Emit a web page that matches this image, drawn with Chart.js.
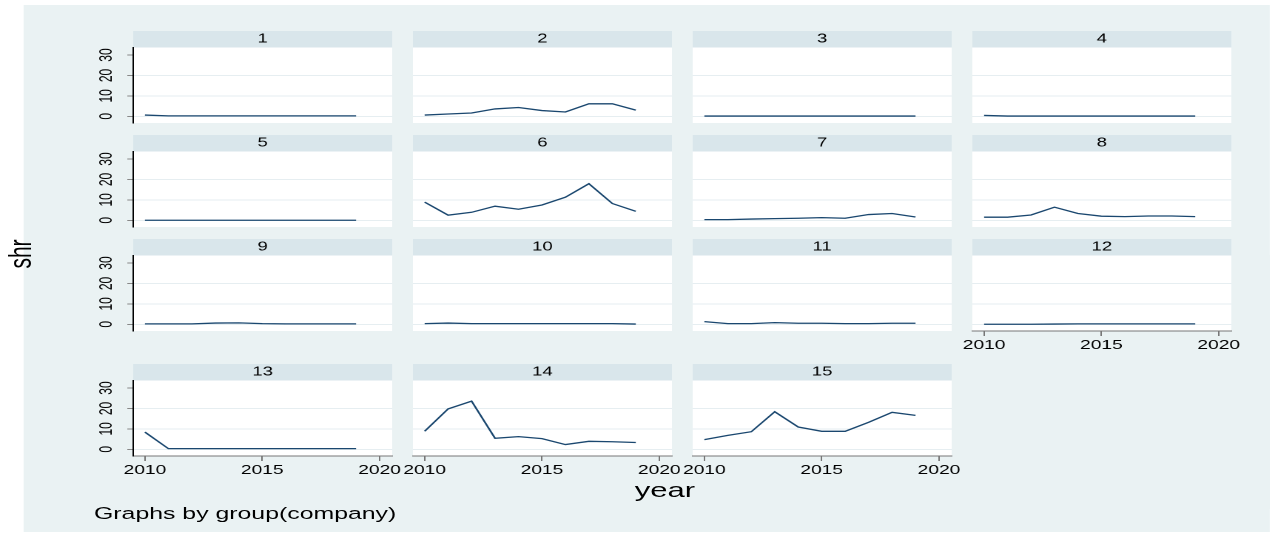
<!DOCTYPE html>
<html>
<head>
<meta charset="utf-8">
<script src="https://cdn.jsdelivr.net/npm/chart.js@4.4.1/dist/chart.umd.min.js"></script>
<style>
  html, body { margin: 0; padding: 0; background: #fff; overflow: hidden; }
  #stage { position: absolute; left: 0; top: 0; height: 537px; transform-origin: 0 0; }
  #stage canvas { position: absolute; }
  .txt { position: absolute; font-family: "Liberation Sans", Arial, sans-serif; color: #000; white-space: nowrap; }
</style>
</head>
<body>
<div id="stage">
  <div id="bg" style="position:absolute;background:#eaf2f3;"></div>
</div>
<script>
// the reference picture is stretched sideways, so draw narrow and scale in x
const K = 1.48;

const years = [2010, 2011, 2012, 2013, 2014, 2015, 2016, 2017, 2018, 2019];
const groups = ["1", "2", "3", "4", "5", "6", "7", "8", "9", "10", "11", "12", "13", "14", "15"];
const xTicks = [2010, 2015, 2020];
const yTicks = [0, 10, 20, 30];

const shr1 = [0.6, 0.2, 0.2, 0.2, 0.2, 0.2, 0.2, 0.2, 0.2, 0.2];
const shr2 = [0.6, 1.1, 1.6, 3.6, 4.3, 2.8, 2.1, 6.1, 6.1, 3.0];
const shr3 = [0.1, 0.1, 0.1, 0.1, 0.1, 0.1, 0.1, 0.1, 0.1, 0.1];
const shr4 = [0.4, 0.1, 0.1, 0.1, 0.1, 0.1, 0.1, 0.1, 0.1, 0.1];
const shr5 = [0, 0, 0, 0, 0, 0, 0, 0, 0, 0];
const shr6 = [8.9, 2.5, 3.9, 6.9, 5.4, 7.5, 11.3, 17.9, 8.2, 4.4];
const shr7 = [0.3, 0.3, 0.6, 0.8, 1.0, 1.3, 1.0, 2.8, 3.3, 1.6];
const shr8 = [1.5, 1.5, 2.6, 6.4, 3.3, 2.0, 1.8, 2.1, 2.1, 1.8];
const shr9 = [0.2, 0.2, 0.2, 0.6, 0.7, 0.3, 0.2, 0.2, 0.2, 0.2];
const shr10 = [0.3, 0.6, 0.3, 0.3, 0.3, 0.3, 0.3, 0.3, 0.3, 0.1];
const shr11 = [1.3, 0.3, 0.3, 0.8, 0.5, 0.5, 0.3, 0.3, 0.5, 0.5];
const shr12 = [0, 0, 0, 0.1, 0.2, 0.2, 0.2, 0.2, 0.2, 0.2];
const shr13 = [8.4, 0.3, 0.3, 0.3, 0.3, 0.3, 0.3, 0.3, 0.3, 0.3];
const shr14 = [8.8, 19.8, 23.6, 5.4, 6.2, 5.2, 2.3, 3.9, 3.7, 3.3];
const shr15 = [4.7, 6.8, 8.6, 18.4, 10.9, 8.8, 8.8, 13.2, 18.1, 16.6];
const series = [shr1, shr2, shr3, shr4, shr5, shr6, shr7, shr8, shr9, shr10, shr11, shr12, shr13, shr14, shr15];

const NAVY = "#1a476f";
const HEADER = "#d9e6eb";
const GRID = "#e6eef1";
const FONT = '"Liberation Sans", Arial, sans-serif';

// layout, in reference pixels
const colLeft = [133.3, 412.7, 692, 972];
const rowTop = [31, 135, 239.2, 364];
const PLOT_W = 258.7;
const HEAD = 16.5;
const PLOT_H = 75.5;
const PADX = 34;
const PADB = 40;
const XH = 30;   // room kept for the x axis labels

Chart.defaults.font.family = FONT;

const stage = document.getElementById("stage");
stage.style.width = (1270 / K) + "px";
stage.style.transform = "scaleX(" + K + ")";

const bg = document.getElementById("bg");
bg.style.left = (24 / K) + "px";
bg.style.top = "5px";
bg.style.width = ((1270 - 24) / K) + "px";
bg.style.height = "527px";

const panelBg = {
    id: "panelBg",
    beforeDraw(chart) {
        const { ctx, chartArea: a } = chart;
        const t = chart.titleBlock;
        ctx.save();
        ctx.fillStyle = HEADER;
        ctx.fillRect(a.left, t.top, a.right - a.left, t.height);
        ctx.fillStyle = "#fff";
        ctx.fillRect(a.left, a.top, a.right - a.left, a.bottom - a.top);
        ctx.restore();
    },
    afterDraw(chart, args, opts) {
        if (!opts.yLabels) return;
        const { ctx, chartArea } = chart;
        const y = chart.scales.y;
        ctx.save();
        ctx.fillStyle = "#000";
        ctx.font = "12px " + FONT;
        ctx.textAlign = "center";
        ctx.textBaseline = "middle";
        yTicks.forEach(v => {
            ctx.save();
            ctx.translate(chartArea.left - 18, y.getPixelForValue(v));
            ctx.rotate(-Math.PI / 2);
            ctx.fillText(String(v), 0, 0);
            ctx.restore();
        });
        ctx.restore();
    }
};

series.forEach((vals, i) => {
    const col = i % 4;
    const row = Math.floor(i / 4);
    const hasY = col === 0;
    const hasX = i + 4 >= series.length;

    const w = Math.round(PLOT_W / K) + 2 * PADX;
    const h = HEAD + PLOT_H + PADB;
    const canvas = document.createElement("canvas");
    canvas.width = w;
    canvas.height = h;
    canvas.style.width = w + "px";
    canvas.style.height = h + "px";
    canvas.style.left = (colLeft[col] / K - PADX) + "px";
    canvas.style.top = rowTop[row] + "px";
    stage.appendChild(canvas);

    new Chart(canvas, {
        type: "line",
        data: {
            datasets: [{
                data: vals.map((v, j) => ({ x: years[j], y: v })),
                borderColor: NAVY,
                borderWidth: 1.3,
                pointRadius: 0,
                tension: 0,
                fill: false
            }]
        },
        plugins: [panelBg],
        options: {
            responsive: false,
            animation: false,
            devicePixelRatio: 2,
            layout: {
                padding: { left: PADX, right: PADX, top: 0, bottom: hasX ? PADB - XH : PADB },
                autoPadding: false
            },
            plugins: {
                legend: { display: false },
                tooltip: { enabled: false },
                title: {
                    display: true,
                    text: groups[i],
                    color: "#000",
                    font: { size: 12.5, weight: "normal", lineHeight: HEAD + "px" },
                    padding: 0
                },
                panelBg: { yLabels: hasY }
            },
            scales: {
                x: {
                    type: "linear",
                    min: 2009.5,
                    max: 2020.54,
                    display: hasX,
                    grid: { drawOnChartArea: false, drawTicks: true, tickLength: 5, tickColor: "#777" },
                    border: { display: true, color: "#777", width: 1 },
                    ticks: {
                        color: "#000",
                        font: { size: 13 },
                        padding: 1.5,
                        maxRotation: 0,
                        autoSkip: false,
                        callback: v => String(v)
                    },
                    afterBuildTicks: s => { s.ticks = xTicks.map(v => ({ value: v })); },
                    afterFit: s => { s.height = hasX ? XH : 0; s.paddingLeft = 0; s.paddingRight = 0; }
                },
                y: {
                    type: "linear",
                    min: -3.3,
                    max: 33.7,
                    grid: {
                        color: c => (c.tick && c.tick.value === 30) ? "rgba(0,0,0,0)" : GRID,
                        lineWidth: 1,
                        drawTicks: hasY,
                        tickLength: 4,
                        tickColor: "#888"
                    },
                    border: { display: hasY, color: "#000", width: 1 },
                    ticks: { display: false },
                    afterBuildTicks: s => { s.ticks = yTicks.map(v => ({ value: v })); },
                    afterFit: s => { s.width = 0; s.paddingTop = 0; s.paddingBottom = 0; }
                }
            }
        }
    });
});

function addText(str, css) {
    const d = document.createElement("div");
    d.className = "txt";
    d.textContent = str;
    Object.assign(d.style, css);
    stage.appendChild(d);
    return d;
}

// x title
addText("year", {
    left: (665 / K - 60) + "px", top: "478.7px", width: "120px",
    textAlign: "center", fontSize: "21px", lineHeight: "21px"
});

// y title, rotated
addText("shr", {
    left: (14 - 50) + "px", top: (254 - 12) + "px", width: "100px", height: "24px",
    textAlign: "center", fontSize: "21px", lineHeight: "24px",
    transform: "rotate(-90deg)", transformOrigin: "50% 50%"
});

// note
addText("Graphs by group(company)", {
    left: (94 / K) + "px", top: "504.7px", fontSize: "16.8px", lineHeight: "17px"
});
</script>
</body>
</html>
